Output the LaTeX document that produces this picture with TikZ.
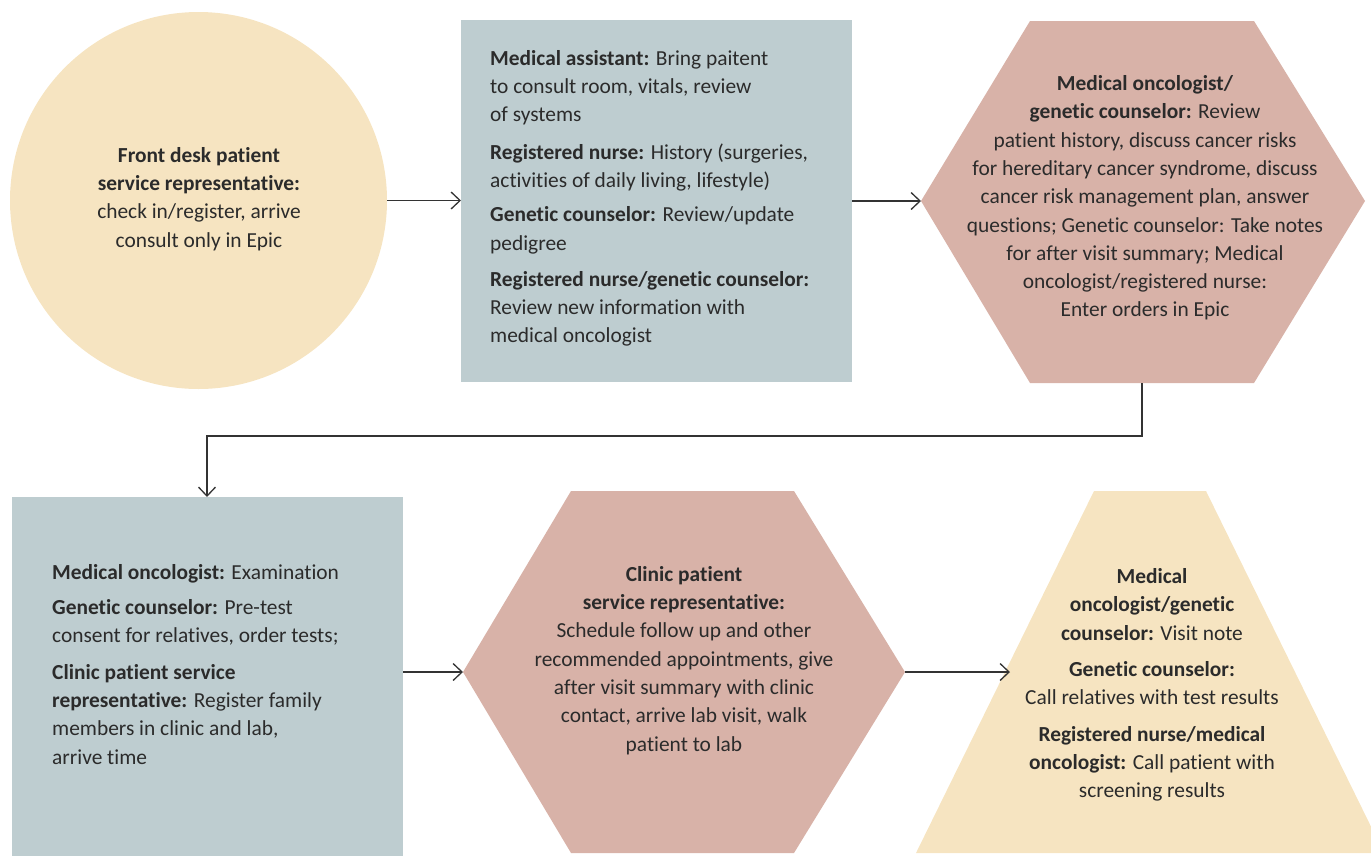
\documentclass[tikz,border=0pt]{standalone}
\usepackage{fontspec}
\setmainfont{Carlito}[Ligatures=NoCommon]
\usetikzlibrary{arrows.meta}
\definecolor{cyellow}{HTML}{F6E4C1}
\definecolor{cblue}{HTML}{BECDD0}
\definecolor{crose}{HTML}{D8B2A8}
\definecolor{ctext}{HTML}{2B2B2B}
\definecolor{cline}{HTML}{333333}
\tikzset{
  txt/.style={font=\fontsize{21.4}{28.3}\selectfont, text=ctext, inner sep=0pt},
  conn/.style={draw=cline, line width=1.3pt, -{Straight Barb[length=9pt,width=17pt,line width=1.3pt]}},
}
\begin{document}
\begin{tikzpicture}[x=1pt,y=-1pt]
\useasboundingbox (0,0) rectangle (1371,855);
\begin{scope}
\clip (0,0) rectangle (1371,855);
% circle
\node[circle, fill=cyellow, minimum size=377pt, inner sep=0pt] (c1) at (198.5,200.5) {};
% box 2
\node[fill=cblue, minimum width=391pt, minimum height=362pt, inner sep=0pt, anchor=north west] (b2) at (461,20) {};
% hexagon 1
\coordinate (h1W) at (921,201);
\coordinate (h1E) at (1365,201);
\coordinate (h1B) at (1142,383);
\fill[crose] (h1W) -- (1030,21) -- (1254,21) -- (h1E) -- (1254,383) -- (1030,383) -- cycle;
% box 4
\node[fill=cblue, minimum width=391pt, minimum height=370pt, inner sep=0pt, anchor=north west] (b4) at (12,497) {};
% hexagon 2
\coordinate (h2W) at (463,672);
\coordinate (h2E) at (905,672);
\fill[crose] (h2W) -- (571,491) -- (794,491) -- (h2E) -- (794,853) -- (571,853) -- cycle;
% trapezoid
\coordinate (tW) at (1010,672);
\fill[cyellow] (1094,491) -- (1206,491) -- (1384,853) -- (916,853) -- cycle;
\end{scope}

% texts
\node[txt, align=center] (t1) at (199,199) {\textbf{Front desk patient}\\\textbf{service representative:}\\check in/register, arrive\\consult only in Epic};
\node[txt, align=left, anchor=north west] (t2) at (490,50) {\textbf{Medical assistant:} Bring paitent\\to consult room, vitals, review\\of systems\\[9pt]\textbf{Registered nurse:} History (surgeries,\\activities of daily living, lifestyle)\\[6pt]\textbf{Genetic counselor:} Review/update\\pedigree\\[8pt]\textbf{Registered nurse/genetic counselor:}\\Review new information with\\medical oncologist};
\node[txt, align=center] (t3) at (1145,198) {\textbf{Medical oncologist/}\\\textbf{genetic counselor:} Review\\patient history, discuss cancer risks\\for hereditary cancer syndrome, discuss\\cancer risk management plan, answer\\questions; Genetic counselor: Take notes\\for after visit summary; Medical\\oncologist/registered nurse:\\Enter orders in Epic};
\node[txt, align=left, anchor=north west] (t4) at (52,564) {\textbf{Medical oncologist:} Examination\\[7pt]\textbf{Genetic counselor:} Pre-test\\consent for relatives, order tests;\\[8pt]\textbf{Clinic patient service}\\\textbf{representative:} Register family\\members in clinic and lab,\\arrive time};
\node[txt, align=center] (t5) at (684,660.5) {\textbf{Clinic patient}\\\textbf{service representative:}\\Schedule follow up and other\\recommended appointments, give\\after visit summary with clinic\\contact, arrive lab visit, walk\\patient to lab};
\node[txt, align=center] (t6) at (1152,685) {\textbf{Medical}\\\textbf{oncologist/genetic}\\\textbf{counselor:} Visit note\\[8pt]\textbf{Genetic counselor:}\\Call relatives with test results\\[8pt]\textbf{Registered nurse/medical}\\\textbf{oncologist:} Call patient with\\screening results};

% connectors
\draw[conn] (c1.east) -- (c1.east -| b2.west);
\draw[conn] (b2.east |- h1W) -- (h1W);
\draw[conn] (h1B) -- (1142,436) -| (b4.north -| 207,0);
\draw[conn] (b4.east |- h2W) -- (h2W);
\draw[conn] (h2E) -- (tW);
\end{tikzpicture}
\end{document}
